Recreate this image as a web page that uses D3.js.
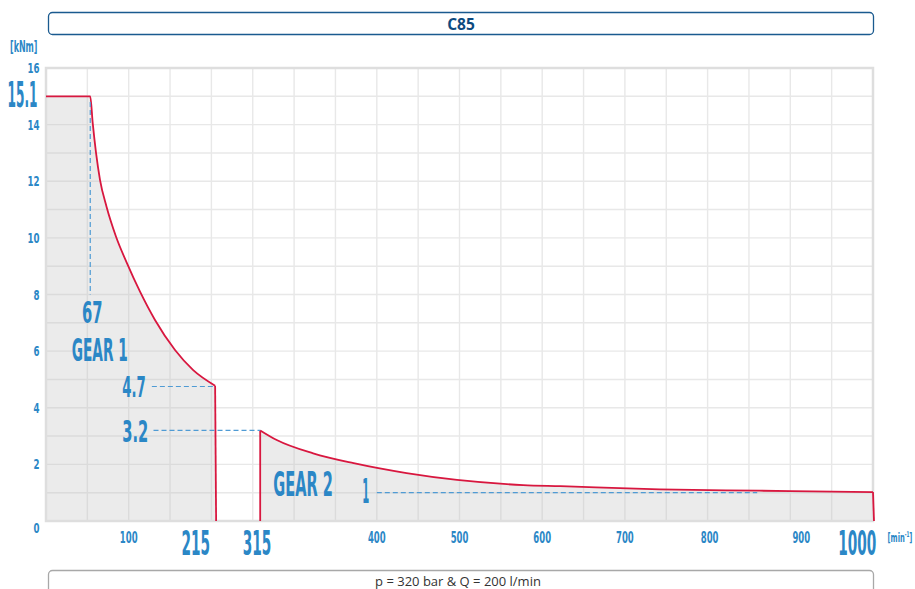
<!DOCTYPE html>
<html>
<head>
<meta charset="utf-8">
<script src="https://cdn.jsdelivr.net/npm/d3@7"></script>
<style>
  html, body { margin: 0; padding: 0; background: #fff; }
  svg { display: block; }
  .num { font-family: "Liberation Sans Narrow", "DejaVu Sans Condensed", sans-serif; font-weight: bold; fill: #2b87c6; }
</style>
</head>
<body>
<svg id="chart" width="915" height="589"></svg>
<script>
'use strict';

// ---- Data -------------------------------------------------------------------

// Gear 1 torque curve [rpm, kNm].
const gear1Rpm    = [0, 53.5, 56.5, 60.5, 65.3, 73.2, 84.6, 98, 113.7, 131.8, 156, 178, 204.5];
const gear1Torque = [15.0, 15.0, 14.05, 13.0, 12.05, 11.1, 10.05, 9.1, 8.1, 7.1, 6.04, 5.33, 4.78];

// Gear 2 torque curve.
const gear2Rpm    = [259, 279, 323, 372, 436, 497, 577, 622, 742, 863, 1000];
const gear2Torque = [3.2, 2.86, 2.39, 2.04, 1.69, 1.45, 1.27, 1.23, 1.12, 1.07, 1.02];

const yTicks = [0, 2, 4, 6, 8, 10, 12, 14, 16];
const xTicks = [100, 400, 500, 600, 700, 800, 900];

// Big axis labels and where they sit along the axis (rpm units).
const bigXLabels = ['215', '315', '1000'];
const bigXAt     = [181, 255, 981];

const title    = 'C85';
const subtitle = 'p = 320 bar & Q = 200 l/min';

// ---- Layout -----------------------------------------------------------------

const svg = d3.select('#chart');
const PLOT = { left: 46, right: 873, top: 68, bottom: 521 };

const x = d3.scaleLinear().domain([0, 1000]).range([PLOT.left, PLOT.right]);
const y = d3.scaleLinear().domain([0, 16]).range([PLOT.bottom, PLOT.top]);

// Condensed text helper: size is font-size, width squeezes the glyphs.
function label(g, str, px, py, size, width, anchor) {
  return g.append('text')
    .attr('class', 'num')
    .attr('x', px).attr('y', py)
    .attr('font-size', size)
    .attr('textLength', width)
    .attr('lengthAdjust', 'spacingAndGlyphs')
    .attr('text-anchor', anchor || 'start')
    .text(str);
}

// ---- Header / footer boxes --------------------------------------------------

svg.append('rect')
  .attr('x', 48.5).attr('y', 12.5).attr('width', 825).attr('height', 22).attr('rx', 4)
  .attr('fill', '#fff').attr('stroke', '#1a5a8f').attr('stroke-width', 1.3);
svg.append('text')
  .attr('x', 461).attr('y', 30).attr('text-anchor', 'middle')
  .attr('font-family', '"Open Sans", sans-serif').attr('font-weight', 'bold')
  .attr('font-size', 15.5).attr('fill', '#0d4a7f')
  .text(title);

svg.append('rect')
  .attr('x', 48.5).attr('y', 570.5).attr('width', 825).attr('height', 40).attr('rx', 4)
  .attr('fill', '#fff').attr('stroke', '#a8a8a8').attr('stroke-width', 1.3);
svg.append('text')
  .attr('x', 458).attr('y', 586).attr('text-anchor', 'middle')
  .attr('font-family', '"Open Sans", sans-serif')
  .attr('font-size', 13).attr('fill', '#333')
  .text(subtitle);

// ---- Grid -------------------------------------------------------------------

const grid = svg.append('g').attr('class', 'grid');
grid.selectAll('.vg').data(d3.range(0, 1001, 50)).join('line')
  .attr('x1', d => x(d)).attr('x2', d => x(d))
  .attr('y1', PLOT.top).attr('y2', PLOT.bottom)
  .attr('stroke', '#e8e8e8').attr('stroke-width', 1.4);
grid.selectAll('.hg').data(d3.range(0, 17, 1)).join('line')
  .attr('x1', PLOT.left).attr('x2', PLOT.right)
  .attr('y1', d => y(d)).attr('y2', d => y(d))
  .attr('stroke', '#e8e8e8').attr('stroke-width', 1.4);

// ---- Curves -----------------------------------------------------------------

const gear1 = gear1Rpm.map((r, i) => [r, gear1Torque[i]]);
const gear2 = gear2Rpm.map((r, i) => [r, gear2Torque[i]]);

const area = d3.area()
  .x(d => x(d[0])).y0(y(0)).y1(d => y(d[1]))
  .curve(d3.curveMonotoneX);
const line = d3.line()
  .x(d => x(d[0])).y(d => y(d[1]))
  .curve(d3.curveMonotoneX);

[gear1, gear2].forEach(pts => {
  svg.append('path').attr('d', area(pts))
    .attr('fill', 'rgba(190,190,190,0.3)');
});

// Plot frame.
svg.append('rect')
  .attr('x', PLOT.left).attr('y', PLOT.top)
  .attr('width', PLOT.right - PLOT.left).attr('height', PLOT.bottom - PLOT.top)
  .attr('fill', 'none').attr('stroke', '#dedede').attr('stroke-width', 2.5);

const RED = '#d8173f';
[gear1, gear2].forEach(pts => {
  const first = pts[0], last = pts[pts.length - 1];
  svg.append('path').attr('d', line(pts))
    .attr('fill', 'none').attr('stroke', RED).attr('stroke-width', 1.8);
  // vertical edges down to zero
  if (first[0] > 0) {
    svg.append('line')
      .attr('x1', x(first[0])).attr('x2', x(first[0]))
      .attr('y1', y(first[1])).attr('y2', y(0))
      .attr('stroke', RED).attr('stroke-width', 1.8);
  }
  svg.append('line')
    .attr('x1', x(last[0])).attr('x2', x(last[0]) + 1)
    .attr('y1', y(last[1])).attr('y2', y(0))
    .attr('stroke', RED).attr('stroke-width', 1.8);
});

// ---- Dashed guides ----------------------------------------------------------

const guides = [
  { x1: 53.5, x2: 53.5, y1: 14.8, y2: 8.0 },
  { x1: 128, x2: 204.5, y1: 4.75, y2: 4.75 },
  { x1: 130, x2: 259, y1: 3.2, y2: 3.2 },
  { x1: 400, x2: 860, y1: 1.0, y2: 1.0 },
];
svg.selectAll('.guide').data(guides).join('line')
  .attr('x1', d => x(d.x1)).attr('x2', d => x(d.x2))
  .attr('y1', d => y(d.y1)).attr('y2', d => y(d.y2))
  .attr('stroke', '#4f9bd4').attr('stroke-width', 1.2)
  .attr('stroke-dasharray', '5,3');

// ---- Axes labels ------------------------------------------------------------

const axisG = svg.append('g');

yTicks.forEach(v => {
  const str = String(v);
  label(axisG, str, 39.5, y(v) + (v === 0 ? 12 : 5), 14, str.length * 6, 'end');
});

const tickNudge = { 800: 2, 900: 11 };
xTicks.forEach(v => {
  const str = String(v);
  label(axisG, str, x(v) + (tickNudge[v] || 0), 543, 15, str.length * 5.9, 'middle');
});

bigXLabels.forEach((s, i) => {
  label(axisG, s, x(bigXAt[i]), 555, 34, s.length * 9.5, 'middle');
});

label(axisG, '[kNm]', 10, 52, 15, 27.5);
label(axisG, '15.1', 7.5, 106.5, 35, 30);

// unit with superscript, squeezed to fit the right margin
const unit = axisG.append('text').attr('class', 'num').attr('font-size', 13);
unit.append('tspan').text('[min');
unit.append('tspan').attr('font-size', 8).attr('dy', -5).text('-1');
unit.append('tspan').attr('dy', 5).text(']');
const uw = unit.node().getBBox().width;
unit.attr('transform', `translate(887.5,542) scale(${25 / uw},1)`);

// ---- Annotations ------------------------------------------------------------

const annotations = [
  { text: '67',     rpm: 56,    kNm: 7.0,  size: 31, width: 20.5, anchor: 'middle' },
  { text: 'GEAR 1', rpm: 65,    kNm: 5.66, size: 32, width: 56,   anchor: 'middle' },
  { text: '4.7',    rpm: 120.5, kNm: 4.39, size: 29, width: 23.5, anchor: 'end' },
  { text: '3.2',    rpm: 123.7, kNm: 2.8,  size: 30, width: 26,   anchor: 'end' },
  { text: 'GEAR 2', rpm: 310.8, kNm: 0.89, size: 33, width: 59.5, anchor: 'middle' },
  { text: '1',      rpm: 386.6, kNm: 0.65, size: 33, width: 7,    anchor: 'middle' },
];
annotations.forEach(a => {
  label(svg, a.text, x(a.rpm), y(a.kNm), a.size, a.width, a.anchor);
});
</script>
</body>
</html>
